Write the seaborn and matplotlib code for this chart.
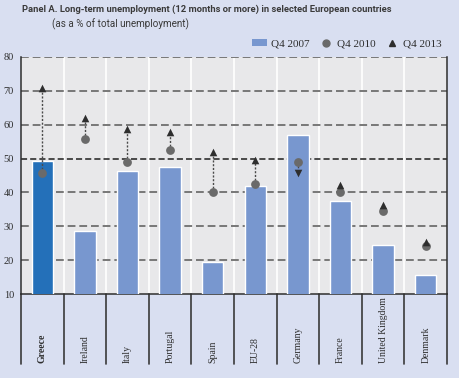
import matplotlib
matplotlib.use("Agg")
import matplotlib.pyplot as plt
import matplotlib.transforms as mtransforms
from matplotlib.lines import Line2D
from matplotlib.patches import Patch
import numpy as np
import pandas as pd
import seaborn as sns

countries = ["Greece", "Ireland", "Italy", "Portugal", "Spain", "EU-28",
             "Germany", "France", "United Kingdom", "Denmark"]
q4_2007 = [49.4, 28.6, 46.2, 47.4, 19.4, 41.9, 57.1, 37.4, 24.4, 15.6]
q4_2010 = [45.7, 55.9, 48.9, 52.4, 40.0, 42.5, 49.0, 40.0, 34.4, 24.1]
q4_2013 = [70.8, 62.0, 58.7, 57.9, 51.8, 49.7, 45.6, 42.2, 36.4, 25.5]
yticks = [10, 20, 30, 40, 50, 60, 70, 80]

BG = "#D9DFF1"
PANEL = "#E8E8EA"
DARK_BLUE = "#2470B9"
LIGHT_BLUE = "#7897CF"

df = pd.DataFrame({"country": countries, "q2007": q4_2007,
                   "q2010": q4_2010, "q2013": q4_2013})

sns.set_style("white")
serif = ["Liberation Serif", "DejaVu Serif"]
sans = ["Roboto", "DejaVu Sans"]

fig = plt.figure(figsize=(4.6, 3.78), dpi=100, facecolor=BG)
ax = fig.add_axes([21 / 460, 84 / 378, 426 / 460, 237 / 378])
ax.set_facecolor(PANEL)

palette = [DARK_BLUE] + [LIGHT_BLUE] * (len(countries) - 1)
sns.barplot(data=df, x="country", y="q2007", hue="country", palette=palette,
            width=0.5, legend=False, ax=ax, zorder=3, saturation=1)

pos = np.arange(len(countries))
# category separators inside the panel
for p in pos[:-1]:
    ax.axvline(p + 0.5, color="white", lw=1.2, zorder=1)

# horizontal grid
for t in yticks[1:]:
    col = "#1E1E1E" if t == 50 else "#777777"
    ax.axhline(t, color=col, lw=1.4 if t != 50 else 1.1,
               ls=(0, (4, 2)), zorder=2)

# change from 2010 to 2013
ax.vlines(pos, df["q2010"], df["q2013"], colors="#4A4A4A", lw=1,
          linestyles=(0, (1.5, 1.2)), zorder=4)
ax.scatter(pos, df["q2010"], s=40, color="#6A6A6A", zorder=5, linewidths=0)
up = df["q2013"] >= df["q2010"]
ax.scatter(pos[up], df["q2013"][up], marker="^", s=30, color="#2E2E2E",
           zorder=6, linewidths=0)
ax.scatter(pos[~up], df["q2013"][~up], marker="v", s=30, color="#2E2E2E",
           zorder=6, linewidths=0)

ax.set_xlim(-0.5, len(countries) - 0.5)
ax.set_ylim(10, 80)
ax.set_yticks(yticks)
ax.set_xlabel("")
ax.set_ylabel("")
for s in ["left", "right", "bottom"]:
    ax.spines[s].set_color("#2E2E2E")
    ax.spines[s].set_linewidth(1.1)
ax.spines["top"].set_visible(False)

ax.tick_params(axis="y", length=3, width=0.8, color="#2E2E2E", pad=2,
               labelsize=7.5, labelcolor="#2E2E2E")
for lab in ax.get_yticklabels():
    lab.set_family(serif)

ax.set_xticks(pos)
ax.set_xticklabels(countries)
ax.tick_params(axis="x", length=0, pad=49.5, labelsize=7,
               labelcolor="#2E2E2E")
for i, lab in enumerate(ax.get_xticklabels()):
    lab.set_family(serif)
    lab.set_rotation(90)
    lab.set_verticalalignment("bottom")
    lab.set_horizontalalignment("center")
    if i == 0:
        lab.set_weight("bold")

# separators below the axis
trans = mtransforms.blended_transform_factory(ax.transData, ax.transAxes)
for p in np.arange(-0.5, len(countries), 1.0):
    ax.plot([p, p], [0, -70 / 237], color="#3A3A3A", lw=1.2,
            transform=trans, clip_on=False, zorder=1)

title = fig.text(22 / 460, 1 - 9.5 / 378,
                 "Panel A. Long-term unemployment (12 months or more) in selected European countries",
                 family=sans, weight="bold", size=8, color="#3A3A3A",
                 ha="left", va="center")
subtitle = fig.text(52 / 460, 1 - 24 / 378, "(as a % of total unemployment)",
                    family=sans, size=8, color="#3A3A3A", ha="left", va="center")

# shrink the title texts to the width they take in the reference
renderer = fig.canvas.get_renderer()
for txt, width in [(title, 371), (subtitle, 138)]:
    w = txt.get_window_extent(renderer).width
    txt.set_size(txt.get_size() * width / w)

handles = [
    Patch(facecolor=LIGHT_BLUE, edgecolor="none", label="Q4 2007"),
    Line2D([], [], marker="o", ls="none", color="#6A6A6A", markersize=5,
           label="Q4 2010"),
    Line2D([], [], marker="^", ls="none", color="#2E2E2E", markersize=4.5,
           label="Q4 2013"),
]
leg = fig.legend(handles=handles, ncol=3, frameon=False,
                 loc="center right", bbox_to_anchor=(442 / 460, 1 - 44 / 378),
                 prop={"family": serif, "size": 8}, handlelength=1.4,
                 handleheight=0.5, columnspacing=0.8, handletextpad=0.3,
                 borderaxespad=0, borderpad=0)
for t in leg.get_texts():
    t.set_color("#2E2E2E")

fig.savefig("out.png", dpi=100, facecolor=BG)
